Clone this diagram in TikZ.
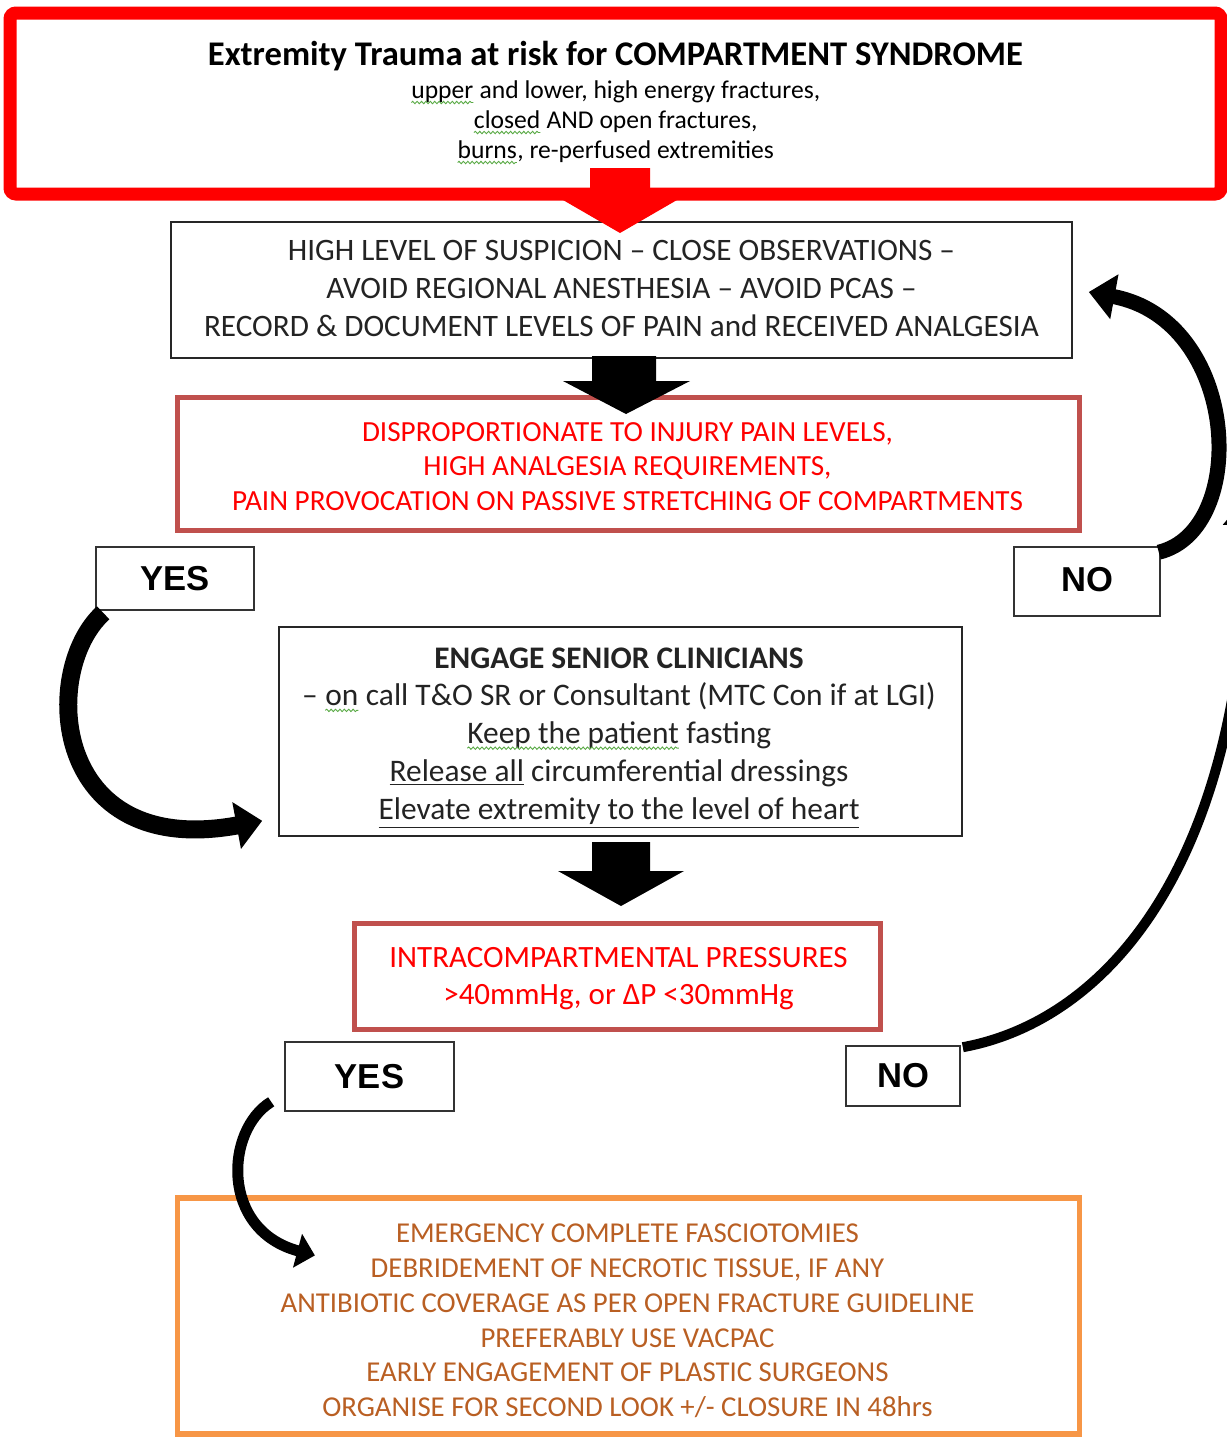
\documentclass[tikz,border=0pt]{standalone}
\usepackage{fontspec}
\setmainfont{Carlito}
\newfontfamily\arialf{Liberation Sans}
\usetikzlibrary{arrows.meta,decorations.pathmorphing,calc}
\definecolor{boxred}{RGB}{192,80,77}
\definecolor{orangeb}{RGB}{247,150,70}
\definecolor{browntxt}{RGB}{185,95,35}
\definecolor{spellgreen}{RGB}{90,170,70}
\definecolor{txtgray}{RGB}{35,35,35}
\newcommand\spellu[1]{\tikz[baseline=(sw.base)]{\node[inner sep=0pt,outer sep=0pt,minimum width=0pt,minimum height=0pt,draw=none,fill=none,rectangle,anchor=center] (sw) {#1};\draw[spellgreen,line width=0.45pt,decorate,decoration={snake,amplitude=0.6pt,segment length=2.2pt}] ([yshift=-2.2pt]sw.base west) -- ([yshift=-2.2pt]sw.base east);}}
\begin{document}
\begin{tikzpicture}[x=0.5pt,y=-0.5pt,
  plainbox/.style={draw=black!85,line width=0.8pt,inner sep=0pt},
  redbox/.style={draw=boxred,line width=2.6pt,inner sep=0pt},
  txt/.style={align=center,inner sep=0pt},
  ynbox/.style={draw=black!80,line width=0.8pt,inner sep=0pt,font=\arialf\bfseries\fontsize{17.3}{19}\selectfont},
  curvy/.style={black},
  blockarrow/.style={fill=black}]
\useasboundingbox (0,0) rectangle (1227,1437);

% top box
\node[draw=red,line width=6.5pt,rounded corners=3pt,minimum width=605.5pt,minimum height=90.5pt,inner sep=0pt] (top) at (615.5,103.5) {};
\node[txt,font=\fontsize{12.8}{15}\selectfont] (toptxt) at (615.5,102.5)
 {{\bfseries\fontsize{17.3}{19}\selectfont Extremity Trauma at risk for COMPARTMENT SYNDROME}\\[1.5pt]
  \spellu{upper} and lower, high energy fractures,\\
  \spellu{closed} AND open fractures,\\
  \spellu{burns}, re-perfused extremities};

% box 2
\node[plainbox,minimum width=450.5pt,minimum height=68pt] (b2) at (621.5,290) {};
\node[txt,text=txtgray,font=\fontsize{15.6}{19}\selectfont] (b2t) at (621.5,288.5)
 {HIGH LEVEL OF SUSPICION – CLOSE OBSERVATIONS –\\
  AVOID REGIONAL ANESTHESIA – AVOID PCAS –\\
  RECORD \& DOCUMENT LEVELS OF PAIN and RECEIVED ANALGESIA};

% red block arrow
\fill[red] (590,168) -- (650,168) -- (650,200) -- (677,200) -- (620,233) -- (563,200) -- (590,200) -- cycle;

% box 3
\node[redbox,minimum width=451pt,minimum height=66.5pt] (b3) at (628.5,464) {};
\node[txt,text=red,font=\fontsize{14.6}{17.4}\selectfont] (b3t) at (627.5,466.5)
 {DISPROPORTIONATE TO INJURY PAIN LEVELS,\\
  HIGH ANALGESIA REQUIREMENTS,\\
  PAIN PROVOCATION ON PASSIVE STRETCHING OF COMPARTMENTS};

\fill[blockarrow] (592,356) -- (656,356) -- (656,381) -- (690,381) -- (626,414) -- (563,381) -- (592,381) -- cycle;

% yes / no
\node[ynbox,minimum width=79pt,minimum height=31.5pt] (yes1) at (175,578.5) {YES};
\node[ynbox,minimum width=73pt,minimum height=34.5pt,text depth=2.5pt,text height=12.5pt] (no1) at (1087,581.5) {NO};

% box 4
\node[plainbox,minimum width=341.5pt,minimum height=104.5pt] (b4) at (620.5,731.5) {};
\node[txt,text=txtgray,font=\fontsize{15.7}{18.9}\selectfont] (b4t) at (619,738)
 {{\bfseries ENGAGE SENIOR CLINICIANS}\\
  – \spellu{on} call T\&O SR or Consultant (MTC Con if at LGI)\\
  \spellu{Keep the patient} fasting\\
  \underline{Release all} circumferential dressings\\
  \underline{Elevate extremity to the level of heart}};

\fill[blockarrow] (592,842) -- (650,842) -- (650,871) -- (684,871) -- (621,906) -- (558,871) -- (592,871) -- cycle;

% box 5
\node[redbox,minimum width=263pt,minimum height=53pt] (b5) at (617.5,976.5) {};
\node[txt,text=red,font=\fontsize{15.5}{18.5}\selectfont] (b5t) at (618.5,979)
 {INTRACOMPARTMENTAL PRESSURES\\
  >40mmHg, or ΔP <30mmHg};

\node[ynbox,minimum width=84.5pt,minimum height=34.5pt] (yes2) at (369.5,1076.5) {YES};
\node[ynbox,minimum width=57pt,minimum height=30pt] (no2) at (903,1076) {NO};

% box 6
\node[draw=orangeb,line width=2.6pt,minimum width=451pt,minimum height=118pt,inner sep=0pt] (b6) at (628.5,1316) {};
\node[txt,text=browntxt,font=\fontsize{14.4}{17.4}\selectfont] (b6t) at (627.5,1321)
 {EMERGENCY COMPLETE FASCIOTOMIES\\
  DEBRIDEMENT OF NECROTIC TISSUE, IF ANY\\
  ANTIBIOTIC COVERAGE AS PER OPEN FRACTURE GUIDELINE\\
  PREFERABLY USE VACPAC\\
  EARLY ENGAGEMENT OF PLASTIC SURGEONS\\
  ORGANISE FOR SECOND LOOK +/- CLOSURE IN 48hrs};

% curved arrows
\draw[curvy,line width=7.5pt,-{Triangle[length=13pt,width=22pt]}]
  ($(no1.north east)+(-2,6)$) .. controls (1250,530) and (1240,320) .. ($(b2.east)+(16,2)$);
\draw[curvy,line width=5pt,-{Triangle[length=15pt,width=24pt]}]
  ($(no2.north east)+(2,2)$) .. controls (1110,1020) and (1245,860) .. (1248,495);
\draw[curvy,line width=9pt,-{Triangle[length=13pt,width=23pt]}]
  ($(yes1.south west)+(8,2)$) .. controls (40,670) and (50,860) .. ($(b4.south west)+(-16,-16)$);
\draw[curvy,line width=5.5pt,-{Triangle[length=9pt,width=17pt]}]
  ($(yes2.south west)+(-13,-10)$) .. controls (225,1130) and (220,1230) .. ($(b6.north west)+(140,60)$);
\end{tikzpicture}
\end{document}
